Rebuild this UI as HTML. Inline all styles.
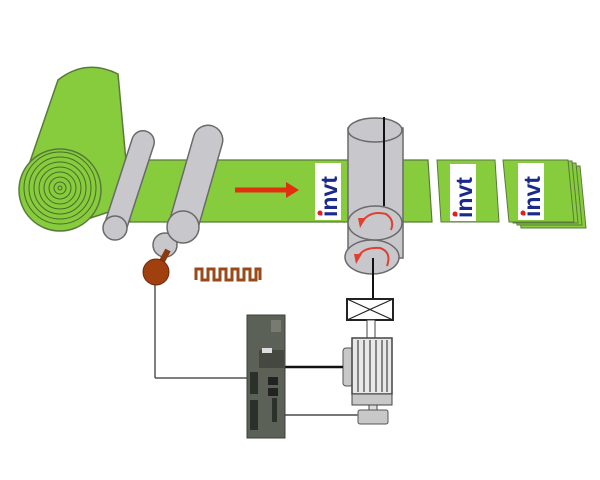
<!DOCTYPE html>
<html><head><style>body{margin:0;background:#fff}svg{display:block}</style></head><body>
<svg width="600" height="480" viewBox="0 0 600 480" xmlns="http://www.w3.org/2000/svg">
<defs>
<g id="logo"><rect x="0" y="0" width="26" height="57" fill="#fff"/>
<text x="0" y="0" transform="translate(22,54) rotate(-90)" font-family="Liberation Sans,sans-serif" font-weight="bold" font-size="23" fill="#1a2a8a">invt</text>
<circle cx="5" cy="50" r="2.5" fill="#e02020"/></g>
</defs>
<!-- big roll -->
<path d="M58,80 Q86,58 118,74 L130,205 L60,228 L22,185 Z" fill="#86cc3c" stroke="#5a7a3a" stroke-width="1.5"/>
<!-- sheet -->
<polygon points="125,160 428,160 432,222 130,222" fill="#86cc3c" stroke="#5a7a3a" stroke-width="1.2"/>
<circle cx="60" cy="190" r="41" fill="#86cc3c" stroke="#5a7a3a" stroke-width="1.5"/>
<g fill="none" stroke="#4a6a2a" stroke-width="1">
<circle cx="60" cy="188" r="36"/><circle cx="60" cy="188" r="31"/><circle cx="60" cy="188" r="26"/><circle cx="60" cy="188" r="21"/><circle cx="60" cy="188" r="16"/><circle cx="60" cy="188" r="11"/><circle cx="60" cy="188" r="6"/><circle cx="60" cy="188" r="2"/></g>
<!-- cut pieces -->
<polygon points="437,160 495,160 499,222 441,222" fill="#86cc3c" stroke="#5a7a3a"/>
<polygon points="515,166 580,166 586,228 521,228" fill="#86cc3c" stroke="#5a7a3a"/>
<polygon points="511,163 576,163 582,225 517,225" fill="#86cc3c" stroke="#5a7a3a"/>
<polygon points="507,161 572,161 578,223 513,223" fill="#86cc3c" stroke="#5a7a3a"/>
<polygon points="503,160 568,160 574,222 509,222" fill="#86cc3c" stroke="#5a7a3a"/>
<use href="#logo" x="315" y="163"/>
<use href="#logo" x="450" y="164"/>
<use href="#logo" x="518" y="163"/>
<!-- rollers -->
<line x1="143" y1="142" x2="115" y2="228" stroke="#6a6a6a" stroke-width="24" stroke-linecap="round"/>
<line x1="143" y1="142" x2="115" y2="228" stroke="#c8c8cc" stroke-width="21" stroke-linecap="round"/>
<circle cx="115" cy="228" r="12" fill="#c8c8cc" stroke="#6a6a6a" stroke-width="1.5"/>
<circle cx="165" cy="245" r="12" fill="#c8c8cc" stroke="#6a6a6a" stroke-width="1.5"/>
<line x1="208" y1="140" x2="183" y2="227" stroke="#6a6a6a" stroke-width="31" stroke-linecap="round"/>
<line x1="208" y1="140" x2="183" y2="227" stroke="#c8c8cc" stroke-width="28" stroke-linecap="round"/>
<circle cx="183" cy="227" r="16" fill="#c8c8cc" stroke="#6a6a6a" stroke-width="1.5"/>
<!-- encoder -->
<line x1="155" y1="280" x2="155" y2="378" stroke="#555" stroke-width="1.5"/>
<line x1="155" y1="378" x2="248" y2="378" stroke="#555" stroke-width="1.5"/>
<line x1="168" y1="250" x2="160" y2="265" stroke="#8b3a10" stroke-width="6"/>
<circle cx="156" cy="272" r="13" fill="#a0400f" stroke="#6a2a08"/>
<path d="M196,280 V269 H202 V280 H208 V269 H214 V280 H220 V269 H226 V280 H232 V269 H238 V280 H244 V269 H250 V280 H256 V269 H260 V280" fill="none" stroke="#9a4a1a" stroke-width="3"/>
<!-- arrow -->
<line x1="235" y1="190" x2="288" y2="190" stroke="#e03010" stroke-width="5"/>
<polygon points="286,182 299,190 286,198" fill="#e03010"/>
<!-- drum -->
<rect x="348" y="128" width="55" height="130" fill="#c8c8cc" stroke="#6a6a6a" stroke-width="1.5"/>
<ellipse cx="375" cy="130" rx="27" ry="12" fill="#c8c8cc" stroke="#6a6a6a" stroke-width="1.5"/>
<line x1="384" y1="117" x2="384" y2="206" stroke="#111" stroke-width="2"/>
<ellipse cx="372" cy="257" rx="27" ry="17" fill="#c8c8cc" stroke="#6a6a6a" stroke-width="1.5"/>
<ellipse cx="375" cy="223" rx="27" ry="17" fill="#c8c8cc" stroke="#6a6a6a" stroke-width="1.5"/>
<path d="M362,222 Q370,210 386,214 Q395,220 391,230" fill="none" stroke="#e04030" stroke-width="2"/>
<polygon points="358,218 366,218 360,228" fill="#e04030"/>
<path d="M358,258 Q362,247 380,248 Q392,252 387,266" fill="none" stroke="#e04030" stroke-width="2"/>
<polygon points="354,254 362,254 356,264" fill="#e04030"/>
<line x1="373" y1="258" x2="373" y2="300" stroke="#111" stroke-width="2"/>
<!-- coupling -->
<rect x="347" y="299" width="46" height="21" fill="#fff" stroke="#222" stroke-width="2"/>
<path d="M347,299 L393,320 M393,299 L347,320" stroke="#222" stroke-width="1.2"/>
<rect x="367" y="320" width="8" height="18" fill="#fff" stroke="#444"/>
<!-- motor -->
<rect x="343" y="348" width="10" height="38" rx="3" fill="#c8c8c8" stroke="#555"/>
<rect x="352" y="338" width="40" height="56" fill="#e8e8e8" stroke="#444" stroke-width="1.5"/>
<g stroke="#444" stroke-width="1.2"><line x1="358" y1="340" x2="358" y2="392"/><line x1="364" y1="340" x2="364" y2="392"/><line x1="370" y1="340" x2="370" y2="392"/><line x1="376" y1="340" x2="376" y2="392"/><line x1="382" y1="340" x2="382" y2="392"/><line x1="387" y1="340" x2="387" y2="392"/></g>
<rect x="352" y="394" width="40" height="11" fill="#c8c8c8" stroke="#444"/>
<rect x="369" y="405" width="8" height="5" fill="#ddd" stroke="#444"/>
<rect x="358" y="410" width="30" height="14" rx="2" fill="#c8c8c8" stroke="#555"/>
<!-- wires -->
<line x1="285" y1="367" x2="343" y2="367" stroke="#111" stroke-width="2.5"/>
<line x1="285" y1="415" x2="358" y2="415" stroke="#777" stroke-width="2"/>
<!-- drive -->
<rect x="247" y="315" width="38" height="123" fill="#5c6158" stroke="#3c403a"/>
<rect x="259" y="350" width="25" height="18" fill="#444840"/>
<rect x="262" y="348" width="10" height="5" fill="#ddd"/>
<rect x="268" y="377" width="10" height="8" fill="#222"/>
<rect x="268" y="388" width="10" height="8" fill="#222"/>
<rect x="250" y="372" width="8" height="22" fill="#2c302a"/>
<rect x="250" y="400" width="8" height="30" fill="#2c302a"/>
<rect x="272" y="398" width="5" height="24" fill="#2c302a"/>
<rect x="271" y="320" width="10" height="12" fill="#777b72"/>
</svg>
</body></html>
